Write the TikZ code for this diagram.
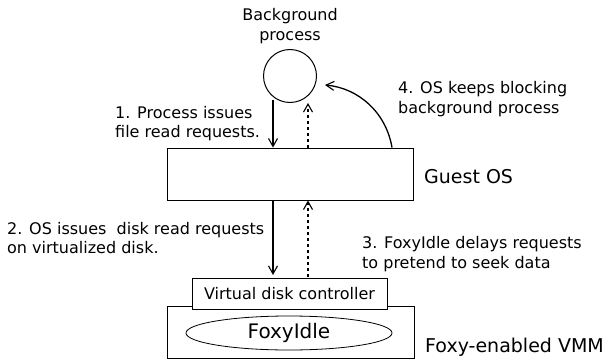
\documentclass[tikz,border=0pt]{standalone}
\usepackage{fontspec}
\setmainfont{DejaVu Sans}
\usetikzlibrary{arrows.meta,shapes.geometric}
\begin{document}
\begin{tikzpicture}[x=1pt,y=-1pt,
  box/.style={draw, line width=0.9pt, fill=white, inner sep=0pt},
  lbl/.style={font=\fontsize{16}{19.5}\selectfont, align=left, inner sep=0pt, anchor=base west},
  big/.style={font=\fontsize{19}{23}\selectfont, inner sep=0pt, anchor=base west},
  tip/.style={-{Straight Barb[length=8pt,width=9pt,line width=1.1pt]}},
  req/.style={tip, line width=1.3pt},
  rep/.style={tip, line width=1.3pt, dash pattern=on 3pt off 3pt}]
\useasboundingbox (0,0) rectangle (615,361);

\node[circle, draw, line width=1pt, minimum size=53pt, inner sep=0pt] (bg) at (290,76) {};
\node[font=\fontsize{16}{19.5}\selectfont, align=center, inner sep=0pt, anchor=base] (bgl) at (290,40.5) {Background\\process};

\node[box, minimum width=246pt, minimum height=52pt] (guest) at (290,174) {};
\node[big] (guestl) at (424,183) {Guest OS};

\node[box, minimum width=247pt, minimum height=52pt] (vmm) at (290.5,332) {};
\node[box, minimum width=195pt, minimum height=31pt, font=\fontsize{16}{19}\selectfont] (ctrl) at (289.5,293.5) {Virtual disk controller};
\node[ellipse, draw, line width=0.8pt, minimum width=206pt, minimum height=34pt, inner sep=0pt, font=\fontsize{20}{24}\selectfont] (foxy) at (289,333) {FoxyIdle};
\node[big] (vmml) at (425,352) {Foxy-enabled VMM};

\node[lbl] (l1) at (115,137.5) {1. Process issues\\file read requests.};
\node[lbl] (l4) at (398,113) {4. OS keeps blocking\\background process};
\node[lbl] (l2) at (7,253.5) {2. OS issues\ \ disk read requests\\on virtualized disk.};
\node[lbl] (l3) at (362,268) {3. FoxyIdle delays requests\\to pretend to seek data};

\coordinate (p1) at (273,100);
\coordinate (p2) at (308,103);
\coordinate (p3) at (273,275);
\coordinate (p4) at (308,277);
\coordinate (c4x) at (392,0);
\coordinate (c4e) at (325,85);

\draw[req] (p1) -- (p1 |- guest.north);
\draw[rep] (p2 |- guest.north) -- (p2);
\draw[req] (p3 |- guest.south) -- (p3);
\draw[rep] (p4) -- (p4 |- guest.south);
\draw[req] (guest.north -| c4x) .. controls (386,112) and (358,88) .. (c4e);
\end{tikzpicture}
\end{document}
